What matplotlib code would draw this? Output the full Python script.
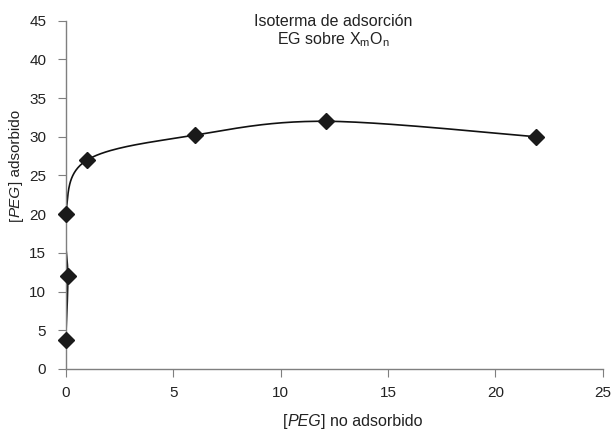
import matplotlib
matplotlib.use("Agg")
import matplotlib.pyplot as plt
import numpy as np

plt.rcParams['font.family'] = ['Liberation Sans', 'DejaVu Sans']
plt.rcParams['mathtext.fontset'] = 'custom'
plt.rcParams['mathtext.rm'] = 'Liberation Sans'
plt.rcParams['mathtext.it'] = 'Liberation Sans:italic'

# data
peg_libre = [0.0, 0.1, 0.0, 1.0, 6.0, 12.1, 21.9]
peg_ads = [3.8, 12.0, 20.0, 27.0, 30.2, 32.0, 30.0]

TXT = '#222222'
W, H = 614, 430

fig = plt.figure(figsize=(6.14, 4.30), dpi=100)
ax = fig.add_axes([0.107, 0.142, 0.875, 0.810])
ax.set_xlim(0, 25)
ax.set_ylim(0, 45)
ax.set_xticks(np.arange(0, 26, 5))
ax.set_yticks(np.arange(0, 46, 5))

for s in ['top', 'right']:
    ax.spines[s].set_visible(False)
for s in ['left', 'bottom']:
    ax.spines[s].set_color('#7f7f7f')
    ax.spines[s].set_linewidth(1.0)
ax.tick_params(direction='out', length=6, color='#7f7f7f', labelsize=11, labelcolor=TXT)
ax.tick_params(axis='y', pad=8)
ax.tick_params(axis='x', pad=6)


# smoothed line like a spreadsheet, done in pixel space
def smooth(xs, ys, n=40):
    pts = ax.transData.transform(np.column_stack([xs, ys]))
    out = []
    for i in range(len(pts) - 1):
        p0 = pts[max(i - 1, 0)]
        p1 = pts[i]
        p2 = pts[i + 1]
        p3 = pts[min(i + 2, len(pts) - 1)]
        c1 = p1 + (p2 - p0) / 6
        c2 = p2 - (p3 - p1) / 6
        t = np.linspace(0, 1, n)[:, None]
        seg = (1 - t) ** 3 * p1 + 3 * (1 - t) ** 2 * t * c1 + 3 * (1 - t) * t ** 2 * c2 + t ** 3 * p2
        out.append(seg)
    out = np.vstack(out)
    return ax.transData.inverted().transform(out)


curve = smooth(peg_libre, peg_ads)
ax.plot(curve[:, 0], curve[:, 1], color='#111111', lw=1.2)
ax.plot(peg_libre, peg_ads, linestyle='none', marker='D', ms=8.5, color='#1a1a1a', clip_on=False, zorder=3)


# labels with italic PEG, written piece by piece
def chain(x, y, parts, size, rotation=0):
    t = ax.annotate(parts[0][0], xy=(x, H - y), xycoords='figure pixels', style=parts[0][1],
                    rotation=rotation, ha='left', va='bottom', fontsize=size, color=TXT,
                    annotation_clip=False)
    anchor = (0, 1) if rotation else (1, 0)
    for txt, st in parts[1:]:
        t = ax.annotate(txt, xy=anchor, xycoords=t, style=st, rotation=rotation,
                        ha='left', va='bottom', fontsize=size, color=TXT, annotation_clip=False)


chain(283, 429, [('[', 'normal'), ('PEG', 'italic'), ('] no adsorbido', 'normal')], 11.5)
chain(9, 221, [('[', 'normal'), ('PEG', 'italic'), ('] adsorbido', 'normal')], 11, rotation=90)

fig.text(333 / W, 1 - 21 / H, 'Isoterma de adsorción', ha='center', va='center',
         fontsize=11.5, color=TXT)
fig.text(333 / W, 1 - 40 / H, 'EG sobre X$_\\mathregular{m}$O$_\\mathregular{n}$', ha='center',
         va='center', fontsize=11.5, color=TXT)

fig.savefig('out.png', dpi=100)
